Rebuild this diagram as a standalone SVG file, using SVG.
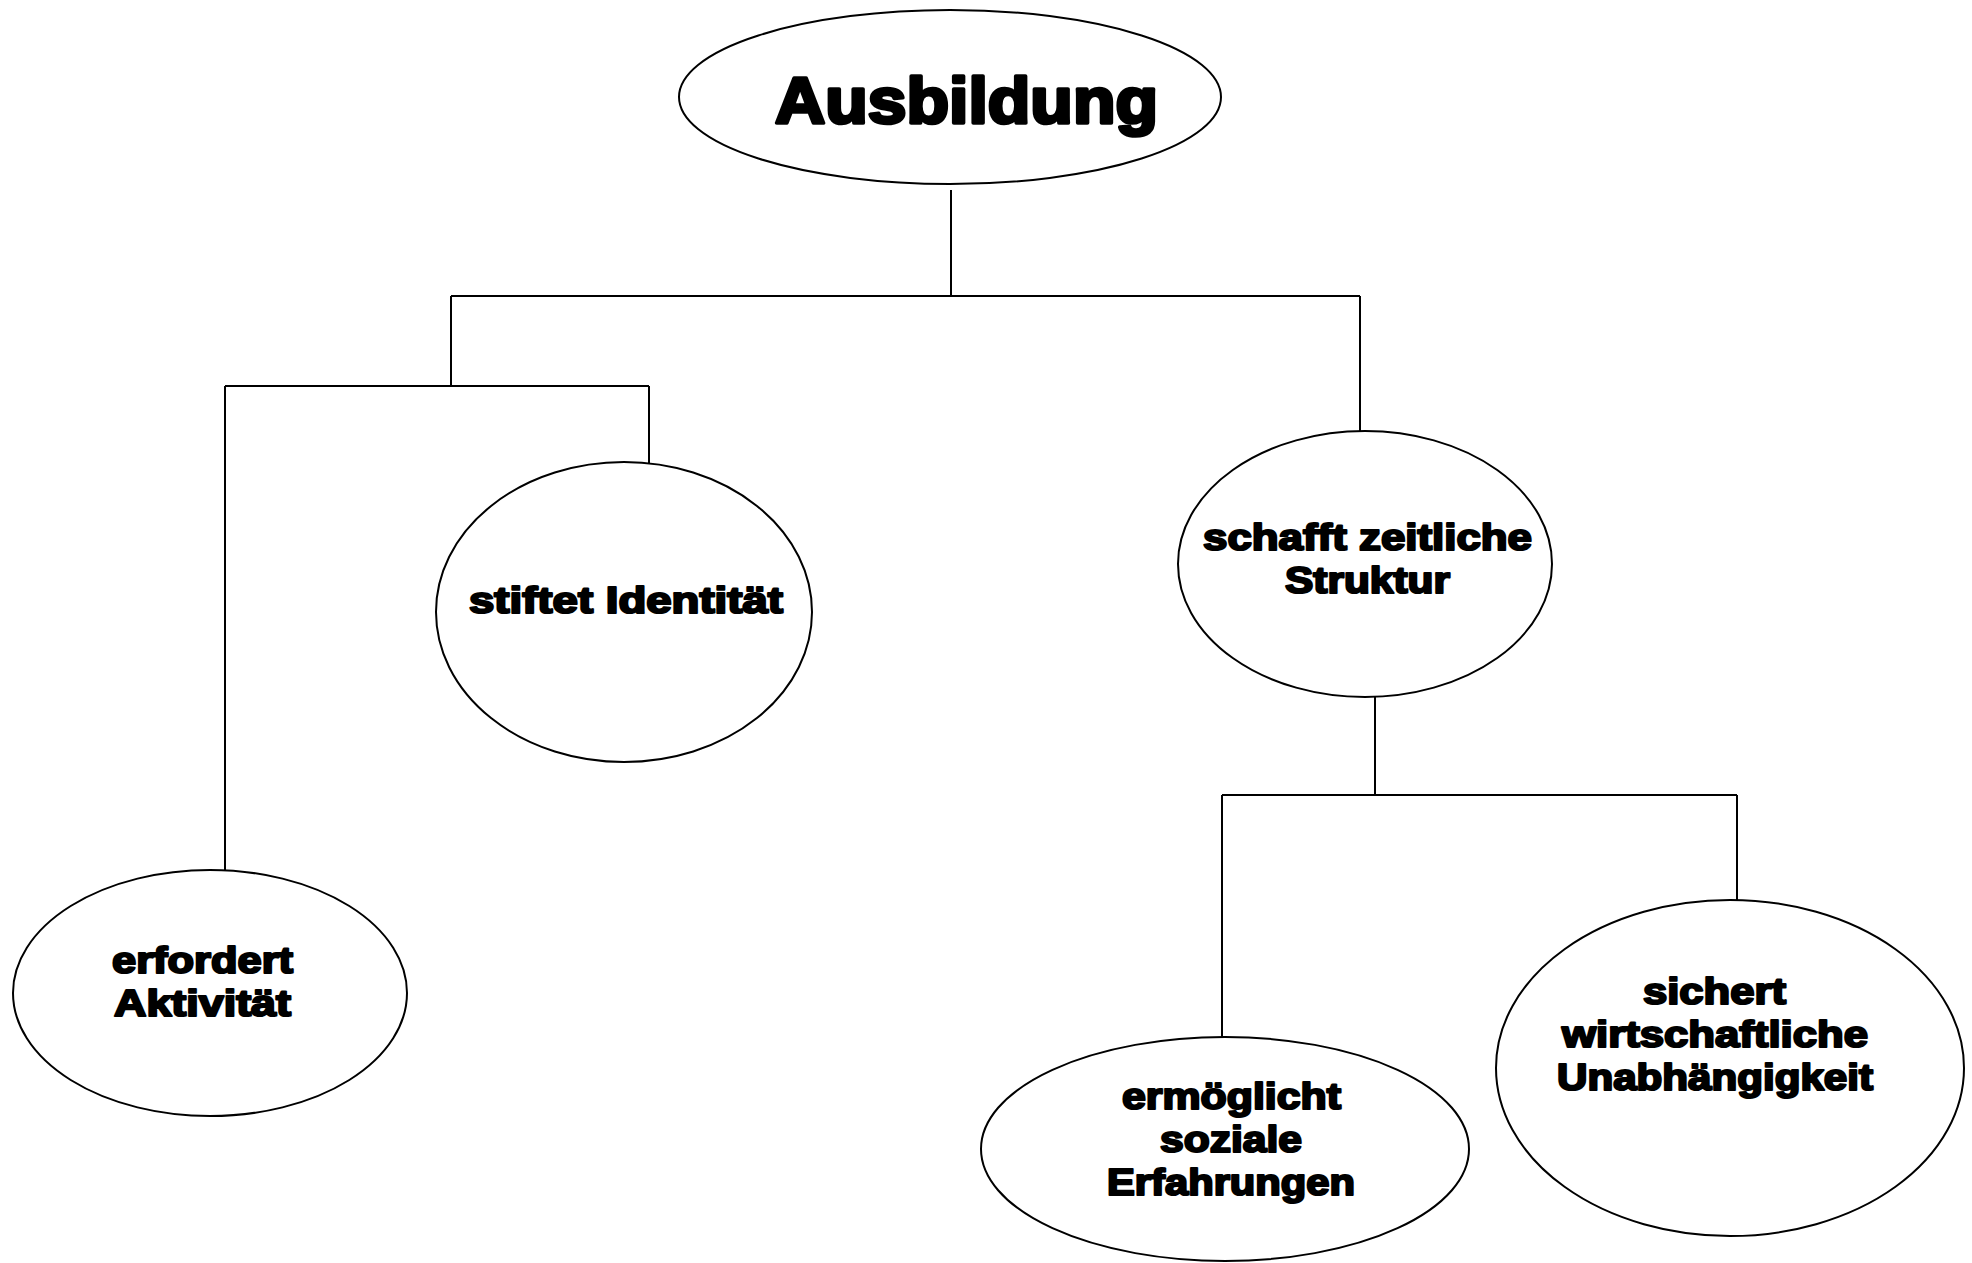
<svg xmlns="http://www.w3.org/2000/svg" width="1972" height="1263" viewBox="0 0 1972 1263">
<style>
.node ellipse{fill:#fff;stroke:#000;stroke-width:2}
.lbl{font-family:"Liberation Sans",Arial,sans-serif;font-weight:bold;font-size:37px;fill:#000;stroke:#000;stroke-width:2.2;stroke-linejoin:round}
.big{font-size:64px;stroke-width:3.6}
#connectors line{stroke:#000;stroke-width:2;fill:none}
</style>
<rect width="1972" height="1263" fill="#fff"/>
<g id="connectors">
<line x1="951" y1="190" x2="951" y2="296"/>
<line x1="451" y1="296" x2="1360" y2="296"/>
<line x1="451" y1="296" x2="451" y2="386"/>
<line x1="225" y1="386" x2="649" y2="386"/>
<line x1="649" y1="386" x2="649" y2="463"/>
<line x1="225" y1="386" x2="225" y2="870"/>
<line x1="1360" y1="296" x2="1360" y2="431"/>
<line x1="1375" y1="689" x2="1375" y2="795"/>
<line x1="1222" y1="795" x2="1737" y2="795"/>
<line x1="1222" y1="795" x2="1222" y2="1037"/>
<line x1="1737" y1="795" x2="1737" y2="900"/>
</g>
<g id="node-ausbildung" class="node">
<ellipse cx="950" cy="97" rx="271" ry="87"/>
<text class="lbl big" x="775" y="123" textLength="383" lengthAdjust="spacingAndGlyphs">Ausbildung</text>
</g>
<g id="node-identitaet" class="node">
<ellipse cx="624" cy="612" rx="188" ry="150"/>
<text class="lbl" x="469" y="613" textLength="314" lengthAdjust="spacingAndGlyphs">stiftet Identität</text>
</g>
<g id="node-struktur" class="node">
<ellipse cx="1365" cy="564" rx="187" ry="133"/>
<text class="lbl" x="1203" y="550" textLength="329" lengthAdjust="spacingAndGlyphs">schafft zeitliche</text>
<text class="lbl" x="1285" y="593" textLength="165" lengthAdjust="spacingAndGlyphs">Struktur</text>
</g>
<g id="node-aktivitaet" class="node">
<ellipse cx="210" cy="993" rx="197" ry="123"/>
<text class="lbl" x="112" y="973" textLength="181" lengthAdjust="spacingAndGlyphs">erfordert</text>
<text class="lbl" x="114" y="1016" textLength="177" lengthAdjust="spacingAndGlyphs">Aktivität</text>
</g>
<g id="node-sozial" class="node">
<ellipse cx="1225" cy="1149" rx="244" ry="112"/>
<text class="lbl" x="1122" y="1109" textLength="219" lengthAdjust="spacingAndGlyphs">ermöglicht</text>
<text class="lbl" x="1160" y="1152" textLength="142" lengthAdjust="spacingAndGlyphs">soziale</text>
<text class="lbl" x="1107" y="1195" textLength="248" lengthAdjust="spacingAndGlyphs">Erfahrungen</text>
</g>
<g id="node-unabhaengigkeit" class="node">
<ellipse cx="1730" cy="1068" rx="234" ry="168"/>
<text class="lbl" x="1643" y="1004" textLength="143" lengthAdjust="spacingAndGlyphs">sichert</text>
<text class="lbl" x="1562" y="1047" textLength="306" lengthAdjust="spacingAndGlyphs">wirtschaftliche</text>
<text class="lbl" x="1557" y="1090" textLength="316" lengthAdjust="spacingAndGlyphs">Unabhängigkeit</text>
</g>
</svg>
